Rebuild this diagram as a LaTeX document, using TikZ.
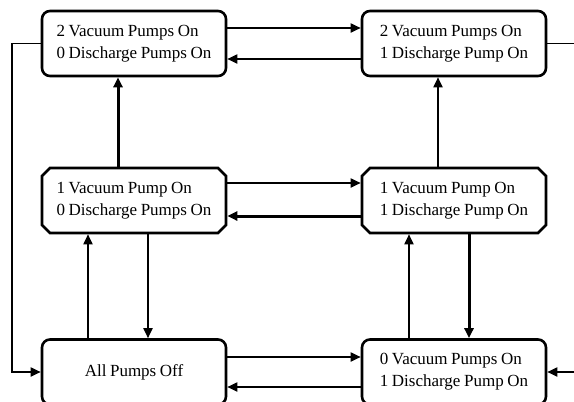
\documentclass[tikz,border=0pt]{standalone}
\usepackage{fontspec}
\setmainfont{Liberation Serif}
\usetikzlibrary{arrows.meta,shapes.misc}
\newcommand{\boxfont}{\fontsize{17}{22}\selectfont\fontdimen2\font=0.21em\relax}
\begin{document}
\begin{tikzpicture}[x=1pt,y=-1pt,
  box/.style={draw,line width=2.6pt,minimum width=184pt,minimum height=65pt,
    align=left,inner sep=0pt,font=\boxfont},
  rbox/.style={box,rounded corners=8pt},
  cbox/.style={box,chamfered rectangle,chamfered rectangle xsep=4pt,chamfered rectangle ysep=4pt},
  tip/.style={-{Triangle[length=10pt,width=9pt]}},
  thin/.style={tip,line width=1.8pt},
  thick/.style={tip,line width=3pt}]
\useasboundingbox (0,0) rectangle (574,402);
\node[rbox] (b1) at (134,43.5) {2 Vacuum Pumps On\\0 Discharge Pumps On};
\node[rbox] (b2) at (454,43.5) {2 Vacuum Pumps On\\1 Discharge Pump On};
\node[cbox] (b3) at (134,200.5) {1 Vacuum Pump On\\0 Discharge Pumps On};
\node[cbox] (b4) at (454,200.5) {1 Vacuum Pump On\\1 Discharge Pump On};
\node[rbox,align=center] (b5) at (134,372) {\raisebox{-4pt}{All Pumps Off}};
\node[rbox] (b6) at (454,372) {0 Vacuum Pumps On\\1 Discharge Pump On};
% x and y reference coordinates
\coordinate (xa) at (118,0);
\coordinate (xb) at (438,0);
\coordinate (xc) at (88,0);
\coordinate (xd) at (148,0);
\coordinate (xe) at (409,0);
\coordinate (xf) at (469,0);
\coordinate (ya) at (0,28);
\coordinate (yb) at (0,59);
\coordinate (yc) at (0,183);
\coordinate (yd) at (0,216);
\coordinate (ye) at (0,357);
\coordinate (yf) at (0,387);
\coordinate (re1) at (576,43.5);
\coordinate (re2) at (576,372);
\coordinate (le) at (12,0);
% top row
\draw[thin] (b1.east |- ya) -- (b2.west |- ya);
\draw[thin] (b2.west |- yb) -- (b1.east |- yb);
% middle row
\draw[thin] (b3.east |- yc) -- (b4.west |- yc);
\draw[thick] (b4.west |- yd) -- (b3.east |- yd);
% bottom row
\draw[thin] (b5.east |- ye) -- (b6.west |- ye);
\draw[thin] (b6.west |- yf) -- (b5.east |- yf);
% verticals
\draw[thick] (b3.north -| xa) -- (b1.south -| xa);
\draw[thin] (b4.north -| xb) -- (b2.south -| xb);
\draw[thin] (b5.north -| xc) -- (b3.south -| xc);
\draw[thin] (b3.south -| xd) -- (b5.north -| xd);
\draw[thin] (b6.north -| xe) -- (b4.south -| xe);
\draw[thick] (b4.south -| xf) -- (b6.north -| xf);
% outer loops
\draw[line width=1.8pt] (b2.east) -- (re1);
\draw[thin] (re2) -- (b6.east);
\draw[thin] (b1.west) -- (b1.west -| le) |- (b5.west);
\end{tikzpicture}
\end{document}
